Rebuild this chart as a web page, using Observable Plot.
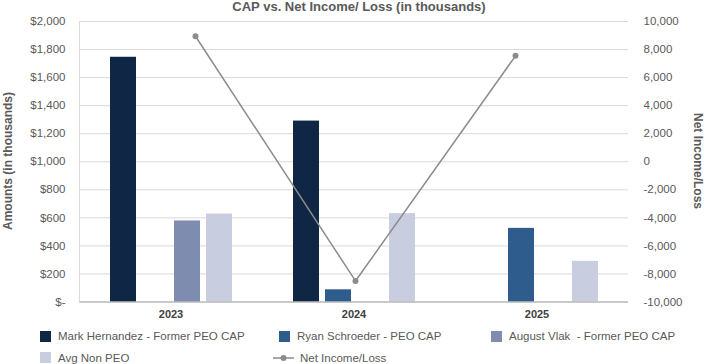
<!DOCTYPE html>
<html>
<head>
<meta charset="utf-8">
<script src="https://cdn.jsdelivr.net/npm/d3@7"></script>
<script src="https://cdn.jsdelivr.net/npm/@observablehq/plot@0.6"></script>
<style>
  html, body { margin: 0; padding: 0; background: #fff; }
  #wrap { position: relative; width: 711px; height: 364px; overflow: hidden; font-family: "Liberation Sans", Arial, sans-serif; color: #595959; }
  .layer { position: absolute; left: 0; top: 0; }
  #title { position: absolute; left: 359px; top: 0; transform: translateX(-50%); font-size: 13px; line-height: 13px; font-weight: bold; white-space: nowrap; color: #595959; }
  .axtitle { position: absolute; font-size: 12px; font-weight: bold; white-space: nowrap; line-height: 12px; color: #595959; }
  .leg { position: absolute; display: flex; align-items: center; font-size: 11.5px; line-height: 14px; white-space: pre; color: #595959; height: 14px; }
  .sw { width: 11px; height: 11px; margin-right: 7px; flex: none; }
</style>
</head>
<body>
<div id="wrap">
  <div id="title"></div>
  <div id="ylab" class="axtitle"></div>
  <div id="y2lab" class="axtitle"></div>
</div>
<script>
// ---- data ----
const years = ["2023", "2024", "2025"];
const seriesNames = [
  "Mark Hernandez - Former PEO CAP",
  "Ryan Schroeder - PEO CAP",
  "August Vlak  - Former PEO CAP",
  "Avg Non PEO"
];
const markHernandez = [1745, 1290, null];
const ryanSchroeder = [null, 87, 525];
const augustVlak = [578, null, null];
const avgNonPeo = [627, 630, 290];
const netIncome = [8950, -8500, 7550];
const leftTicks = [0, 200, 400, 600, 800, 1000, 1200, 1400, 1600, 1800, 2000];
const rightTicks = [-10000, -8000, -6000, -4000, -2000, 0, 2000, 4000, 6000, 8000, 10000];
const seriesColors = ["#0f2744", "#2e5c8c", "#7e8cb0", "#c8cddf"];
const lineName = "Net Income/Loss";
const titleText = "CAP vs. Net Income/ Loss (in thousands)";
const yTitle = "Amounts (in thousands)";
const y2Title = "Net Income/Loss";

// ---- tables ----
const seriesValues = [markHernandez, ryanSchroeder, augustVlak, avgNonPeo];
const barRows = [];
years.forEach((yr, i) => {
  seriesNames.forEach((s, j) => {
    const v = seriesValues[j][i];
    if (v != null) barRows.push({year: yr, series: s, value: v});
  });
});
const lineRows = years.map((yr, i) => ({year: yr, value: netIncome[i]}));

const fmtDollar = d => d === 0 ? "$-" : "$" + d3.format(",")(d);
const fmtNum = d => (d < 0 ? "-" : "") + d3.format(",")(Math.abs(d));

const W = 711, H = 325;
const M = {marginTop: 21, marginBottom: 23.5, marginLeft: 79, marginRight: 83};
const font = "'Liberation Sans', Arial, sans-serif";

// ---- bars layer ----
const bars = Plot.plot({
  width: W, height: H, ...M,
  style: {fontFamily: font, fontSize: "11.5px", color: "#595959", background: "transparent", overflow: "visible"},
  fx: {domain: years, padding: 0, axis: null, label: null},
  x: {domain: seriesNames, paddingInner: 0.2, paddingOuter: 0.95, axis: null},
  y: {domain: [0, 2000], ticks: leftTicks, tickFormat: fmtDollar, tickSize: 0, tickPadding: 14, label: null},
  color: {domain: seriesNames, range: seriesColors},
  marks: [
    Plot.ruleY(leftTicks, {stroke: "#d9d9d9", strokeWidth: 1}),
    Plot.barY(barRows, {fx: "year", x: "series", y: "value", fill: "series"}),
    Plot.ruleY([0], {stroke: "#a6a6a6", strokeWidth: 1}),
    Plot.text(years, {fx: d => d, text: d => d, frameAnchor: "bottom", dy: 15.5, fontWeight: "bold", fontSize: 11, fill: "#404040"})
  ]
});
bars.classList.add("layer");
document.getElementById("wrap").appendChild(bars);

// ---- line layer (secondary axis) ----
const line = Plot.plot({
  width: W, height: H, ...M,
  style: {fontFamily: font, fontSize: "11.5px", color: "#595959", background: "transparent", overflow: "visible"},
  x: {type: "point", domain: years, padding: 0.7066, align: 0.507, axis: null},
  y: {domain: [-10000, 10000], ticks: rightTicks, tickFormat: fmtNum, axis: "right", tickSize: 0, tickPadding: 15, label: null},
  marks: [
    Plot.frame({anchor: "left", stroke: "#d9d9d9"}),
    Plot.line(lineRows, {x: "year", y: "value", stroke: "#8c8c8c", strokeWidth: 1.5}),
    Plot.dot(lineRows, {x: "year", y: "value", r: 3, fill: "#8c8c8c", stroke: "none"})
  ]
});
line.classList.add("layer");
document.getElementById("wrap").appendChild(line);

// ---- texts ----
document.getElementById("title").textContent = titleText;
const yl = document.getElementById("ylab");
yl.textContent = yTitle;
yl.style.left = "7.5px"; yl.style.top = "161px";
yl.style.transform = "translate(-50%,-50%) rotate(-90deg)";
const y2l = document.getElementById("y2lab");
y2l.textContent = y2Title;
y2l.style.left = "698px"; y2l.style.top = "161px";
y2l.style.transform = "translate(-50%,-50%) rotate(90deg)";

// ---- legend ----
const wrap = document.getElementById("wrap");
const legendPos = [
  {x: 40, y: 336}, {x: 279, y: 336}, {x: 491, y: 336}, {x: 40, y: 357.5}
];
seriesNames.forEach((s, i) => {
  const d = document.createElement("div");
  d.className = "leg";
  d.style.left = legendPos[i].x + "px";
  d.style.top = (legendPos[i].y - 7) + "px";
  const sw = document.createElement("span");
  sw.className = "sw";
  sw.style.background = seriesColors[i];
  d.appendChild(sw);
  d.appendChild(document.createTextNode(s));
  wrap.appendChild(d);
});
{
  const d = document.createElement("div");
  d.className = "leg";
  d.style.left = "273px";
  d.style.top = (357.5 - 7) + "px";
  d.innerHTML = '<svg width="21" height="8" style="margin-right:6px;flex:none"><line x1="0" x2="21" y1="4" y2="4" stroke="#8c8c8c" stroke-width="1.5"/><circle cx="10.5" cy="4" r="3" fill="#8c8c8c"/></svg>';
  d.appendChild(document.createTextNode(lineName));
  wrap.appendChild(d);
}
</script>
</body>
</html>
